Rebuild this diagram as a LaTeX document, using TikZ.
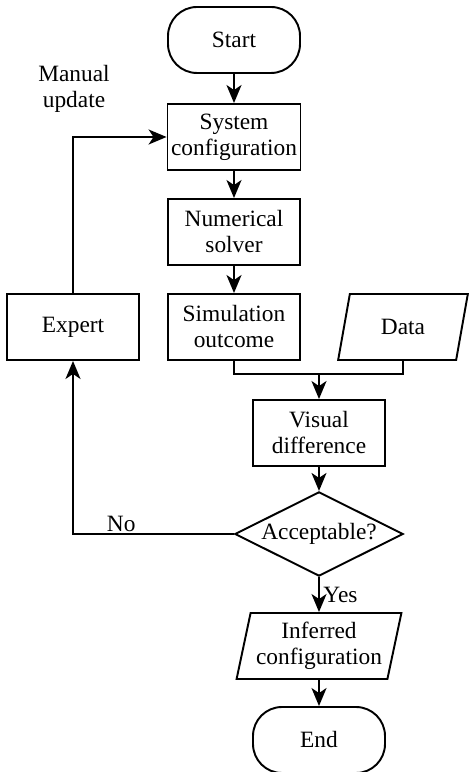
\documentclass[tikz,border=0pt]{standalone}
\usepackage{fontspec}
\setmainfont{Liberation Serif}
\usepackage{tikz}
\usetikzlibrary{arrows.meta,shapes.geometric}

\tikzset{
  box/.style={draw, line width=1.1pt, minimum width=2.64cm, minimum height=1.32cm,
    align=center, inner sep=2pt},
  term/.style={box, rounded corners=0.58cm},
  io/.style={draw, line width=1.1pt, trapezium, trapezium left angle=76,
    trapezium right angle=104, trapezium stretches=true, align=center,
    minimum height=1.32cm, inner sep=2pt},
  decide/.style={draw, line width=1.1pt, diamond, aspect=2, minimum width=3.3cm,
    minimum height=1.64cm, inner sep=1pt},
  flow/.style={line width=1.1pt, -{Stealth[length=0.36cm,width=0.3cm,inset=0.1cm]}},
  lnk/.style={line width=1.1pt},
}

\begin{document}
\begin{tikzpicture}[font=\fontsize{13.3}{14.8}\selectfont]
\useasboundingbox (0,0) rectangle (9.38,15.44);
% main column
\node[term] (start) at (4.68,14.64) {Start};
\node[box] (sys) at (4.68,12.70) {System\\configuration};
\node[box] (solver) at (4.68,10.80) {Numerical\\solver};
\node[box] (sim) at (4.68,8.90) {Simulation\\outcome};
\node[box] (expert) at (1.46,8.90) {Expert};
\node[io, minimum width=2.6cm] (data) at (8.06,8.90) {Data};
\node[box] (diff) at (6.38,6.78) {Visual\\difference};
\node[decide] (acc) at (6.38,4.76) {Acceptable?};
\node[io, minimum width=3.32cm] (inferred) at (6.38,2.52) {Inferred\\configuration};
\node[term] (end) at (6.38,0.64) {End};
\coordinate (join) at (6.38,7.96);
\node[align=center] (manual) at (1.48,13.66) {Manual\\update};

\draw[flow] (start) -- (sys);
\draw[flow] (sys) -- (solver);
\draw[flow] (solver) -- (sim);
\draw[lnk] (sim.south) |- (join);
\draw[lnk] (data.south) |- (join);
\draw[flow] (join) -- (diff);
\draw[flow] (diff) -- (acc);
\draw[flow] (acc) -- (inferred) node[midway,right,inner sep=2pt]{Yes};
\draw[flow] (inferred) -- (end);
\draw[flow] (acc.west) -| (expert.south) node[pos=0.35,above,inner sep=1pt]{No};
\draw[flow] (expert.north) |- (sys.west);
\end{tikzpicture}
\end{document}
